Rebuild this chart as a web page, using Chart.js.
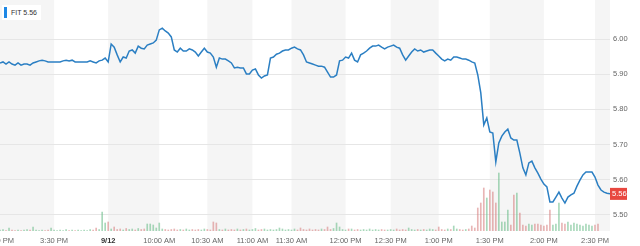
<!DOCTYPE html>
<html>
<head>
<meta charset="utf-8">
<script src="https://cdn.jsdelivr.net/npm/chart.js@4"></script>
<style>
  html, body { margin: 0; padding: 0; background: #fff; }
  #wrap { position: relative; width: 640px; height: 246px; }
  #legend { position: absolute; left: 2px; top: 5px; background: #fff; padding: 2px 4px 2px 2px;
            font: 7px "Liberation Sans", Arial, sans-serif; color: #333; display: flex; align-items: center; }
  #legend .bar { width: 3px; height: 11px; background: #1e88e5; margin-right: 4px; }
</style>
</head>
<body>
<div id="wrap">
  <canvas id="priceChart" width="640" height="246"></canvas>
  <div id="legend"><span class="bar"></span><span id="legendText"></span></div>
</div>
<script>
  // Symbol shown in the legend
  const symbol = 'FIT';

  // Price per sample (intraday, index based like the original)
  const prices = [
    5.932, 5.935, 5.929, 5.935, 5.929, 5.926, 5.932, 5.926, 5.929, 5.929,
    5.926, 5.932, 5.935, 5.938, 5.940, 5.938, 5.935, 5.935, 5.935, 5.935,
    5.935, 5.938, 5.940, 5.938, 5.940, 5.935, 5.935, 5.935, 5.935, 5.935,
    5.938, 5.935, 5.932, 5.938, 5.940, 5.946, 5.935, 5.986, 5.977, 5.955,
    5.935, 5.949, 5.946, 5.966, 5.969, 5.960, 5.980, 5.974, 5.972, 5.983,
    5.986, 5.989, 5.997, 6.026, 6.031, 6.023, 6.017, 6.006, 5.969, 5.963,
    5.974, 5.966, 5.966, 5.972, 5.969, 5.963, 5.952, 5.963, 5.974, 5.963,
    5.960, 5.949, 5.920, 5.946, 5.943, 5.943, 5.938, 5.932, 5.918, 5.920,
    5.918, 5.918, 5.901, 5.901, 5.912, 5.915, 5.898, 5.889, 5.895, 5.898,
    5.946, 5.949, 5.957, 5.960, 5.966, 5.969, 5.969, 5.974, 5.977, 5.972,
    5.969, 5.955, 5.935, 5.932, 5.929, 5.926, 5.923, 5.923, 5.920, 5.906,
    5.892, 5.892, 5.898, 5.938, 5.940, 5.949, 5.946, 5.960, 5.940, 5.935,
    5.955, 5.960, 5.966, 5.974, 5.980, 5.980, 5.983, 5.977, 5.972, 5.977,
    5.980, 5.983, 5.977, 5.974, 5.955, 5.940, 5.952, 5.963, 5.972, 5.966,
    5.969, 5.963, 5.966, 5.969, 5.969, 5.960, 5.952, 5.943, 5.938, 5.943,
    5.940, 5.949, 5.949, 5.946, 5.943, 5.943, 5.940, 5.935, 5.932, 5.898,
    5.847, 5.756, 5.776, 5.736, 5.733, 5.651, 5.705, 5.724, 5.736, 5.744,
    5.719, 5.713, 5.713, 5.676, 5.634, 5.614, 5.648, 5.653, 5.634, 5.619,
    5.602, 5.588, 5.580, 5.537, 5.537, 5.551, 5.565, 5.548, 5.534, 5.551,
    5.557, 5.562, 5.582, 5.599, 5.614, 5.622, 5.622, 5.622, 5.608, 5.585,
    5.571, 5.565, 5.562, 5.560
  ];

  // Volume per sample (thousands of shares)
  const volumes = [
    2, 3, 1, 6, 2, 1, 2, 1, 2, 3, 2, 8, 2, 1, 2, 1, 2, 6, 2, 1,
    2, 1, 3, 1, 2, 1, 2, 1, 2, 1, 3, 2, 6, 3, 38, 16, 18, 4, 8, 3,
    4, 2, 5, 3, 4, 2, 5, 3, 4, 14, 14, 12, 6, 16, 4, 3, 2, 3, 4, 2,
    3, 2, 4, 2, 3, 2, 3, 2, 4, 3, 2, 18, 16, 3, 2, 4, 2, 3, 2, 4,
    2, 3, 4, 2, 3, 5, 2, 3, 4, 2, 3, 2, 3, 6, 4, 2, 3, 2, 4, 2,
    6, 3, 2, 4, 2, 3, 2, 4, 3, 8, 3, 5, 16, 8, 3, 2, 4, 4, 2, 3,
    2, 3, 2, 4, 2, 3, 2, 3, 2, 2, 3, 2, 4, 2, 3, 2, 6, 3, 2, 3,
    2, 3, 2, 4, 3, 2, 8, 3, 2, 4, 3, 10, 4, 3, 2, 3, 4, 10, 6, 46,
    56, 86, 66, 82, 78, 56, 116, 18, 18, 42, 12, 72, 76, 36, 12, 10, 14, 12, 14, 14,
    12, 10, 12, 42, 12, 14, 56, 16, 14, 18, 12, 16, 14, 12, 10, 14, 12, 10, 12, 14
  ];

  // Sample index where each time label sits, and the labels
  const tickIdx = [0, 18, 36, 53, 69, 84, 97, 115, 130, 146, 163, 181, 198];
  const tickLabels = ['3:00 PM', '3:30 PM', '9/12', '10:00 AM', '10:30 AM', '11:00 AM', '11:30 AM',
                      '12:00 PM', '12:30 PM', '1:00 PM', '1:30 PM', '2:00 PM', '2:30 PM'];
  const priceTicks = [5.5, 5.6, 5.7, 5.8, 5.9, 6.0];

  const FONT = '"Liberation Sans", Arial, sans-serif';
  const lastPrice = prices[prices.length - 1];
  document.getElementById('legendText').textContent = symbol + ' ' + lastPrice.toFixed(2);

  const linePoints = prices.map((p, i) => ({ x: i, y: p }));
  const volPoints = volumes.map((v, i) => ({ x: i, y: v }));
  const volColors = volumes.map((v, i) =>
    (i > 0 && prices[i] < prices[i - 1]) ? 'rgba(214,120,120,0.55)' : 'rgba(110,190,140,0.6)');

  // shaded half-hour bands behind everything
  const bandsPlugin = {
    id: 'bands',
    beforeDraw(chart) {
      const { ctx, chartArea, scales } = chart;
      ctx.save();
      ctx.fillStyle = '#f5f5f5';
      for (let k = 0; k < tickIdx.length; k += 2) {
        const x0 = scales.x.getPixelForValue(tickIdx[k]);
        const x1 = k + 1 < tickIdx.length ? scales.x.getPixelForValue(tickIdx[k + 1]) : chartArea.right;
        ctx.fillRect(x0, chartArea.top, x1 - x0, chartArea.bottom - chartArea.top);
      }
      ctx.restore();
    }
  };

  // red last-price tag on the right axis
  const lastTagPlugin = {
    id: 'lastTag',
    afterDraw(chart) {
      const { ctx, chartArea, scales } = chart;
      const y = scales.y.getPixelForValue(lastPrice);
      ctx.save();
      ctx.fillStyle = '#e8473f';
      ctx.fillRect(chartArea.right, y - 6, 17, 12);
      ctx.fillStyle = '#fff';
      ctx.font = '7.5px ' + FONT;
      ctx.textBaseline = 'middle';
      ctx.fillText(lastPrice.toFixed(2), chartArea.right + 2, y + 0.5);
      ctx.restore();
    }
  };

  const ctx = document.getElementById('priceChart').getContext('2d');
  const priceChart = new Chart(ctx, {
    data: {
      datasets: [
        {
          type: 'line',
          data: linePoints,
          borderColor: '#2b7fc3',
          borderWidth: 1.5,
          pointRadius: 0,
          tension: 0,
          yAxisID: 'y',
          order: 1
        },
        {
          type: 'bar',
          data: volPoints,
          backgroundColor: volColors,
          barThickness: 1,
          yAxisID: 'vol',
          order: 2
        }
      ]
    },
    options: {
      responsive: false,
      animation: false,
      layout: { padding: 0 },
      plugins: { legend: { display: false }, tooltip: { enabled: false } },
      scales: {
        x: {
          type: 'linear',
          min: 0,
          max: prices.length - 1,
          offset: false,
          grid: { display: false, drawTicks: false },
          border: { display: false },
          afterBuildTicks: s => { s.ticks = tickIdx.map(v => ({ value: v })); },
          afterFit: s => { s.height = 15; s.paddingLeft = 0; s.paddingRight = 0; },
          ticks: {
            autoSkip: false,
            maxRotation: 0,
            padding: 5,
            color: c => c.index === 2 ? '#333' : '#666',
            font: c => ({ family: FONT, size: 7.5, weight: c.index === 2 ? 'bold' : 'normal' }),
            callback: (v, i) => tickLabels[i]
          }
        },
        y: {
          type: 'linear',
          position: 'right',
          min: 5.4545,
          max: 6.111,
          grid: { color: '#e6e6e6', drawTicks: false },
          border: { display: false },
          afterBuildTicks: s => { s.ticks = priceTicks.map(v => ({ value: v })); },
          afterFit: s => { s.width = 30; s.paddingTop = 0; s.paddingBottom = 0; },
          ticks: {
            padding: 3,
            color: '#666',
            font: { family: FONT, size: 7.5 },
            callback: v => v.toFixed(2)
          }
        },
        vol: {
          type: 'linear',
          display: false,
          min: 0,
          max: 462
        }
      }
    },
    plugins: [bandsPlugin, lastTagPlugin]
  });
</script>
</body>
</html>
